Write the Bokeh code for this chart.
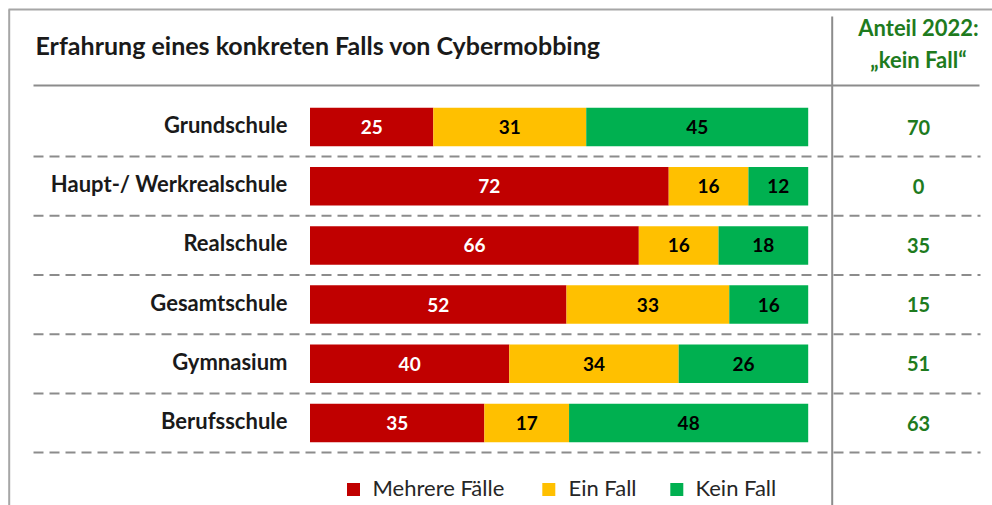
from bokeh.plotting import figure
from bokeh.models import Range1d, ColumnDataSource
from bokeh.core.properties import value
from bokeh.embed import file_html
from bokeh.resources import INLINE

# ---------------- data ----------------
schools = ["Grundschule", "Haupt-/ Werkrealschule", "Realschule",
           "Gesamtschule", "Gymnasium", "Berufsschule"]
mehrere = [25, 72, 66, 52, 40, 35]
ein_fall = [31, 16, 16, 33, 34, 17]
kein_fall = [45, 12, 18, 16, 26, 48]
anteil_2022 = [70, 0, 35, 15, 51, 63]
series_names = ["Mehrere Fälle", "Ein Fall", "Kein Fall"]
title_text = "Erfahrung eines konkreten Falls von Cybermobbing"
header_lines = ["Anteil 2022:", "\u201ekein Fall\u201c"]

# ---------------- styling ----------------
RED, YELLOW, GREEN = "#C00000", "#FFC000", "#00B050"
DKGREEN = "#1E7B1E"
GRAY = "#8C8C8C"
FONT = "Lato"
W, H = 992, 505
BAR_L, BAR_R = 309.5, 807.7      # px for 0% and 100%
ROW0, PITCH = 126.5, 59.2        # px of first row centre, row pitch

sc = (BAR_R - BAR_L) / 100.0
def fx(px):  # px -> data x
    return (px - BAR_L) / sc
def fy(py):  # px -> data y
    return (py - ROW0) / PITCH

p = figure(width=W, height=H, output_backend="svg", toolbar_location=None,
           x_range=Range1d(fx(0), fx(W)), y_range=Range1d(fy(H), fy(0)),
           min_border=0)
p.axis.visible = False
p.xgrid.visible = False
p.ygrid.visible = False
p.outline_line_color = None
p.background_fill_color = "white"
p.border_fill_color = "white"

# ---------------- bars ----------------
idx = list(range(len(schools)))
totals = [a + b + c for a, b, c in zip(mehrere, ein_fall, kein_fall)]
s1 = [a / t * 100 for a, t in zip(mehrere, totals)]
s2 = [b / t * 100 for b, t in zip(ein_fall, totals)]
l1 = [0] * len(idx)
r1 = s1
l2 = r1
r2 = [a + b for a, b in zip(s1, s2)]
l3 = r2
r3 = [100] * len(idx)

src = ColumnDataSource(dict(y=idx, l1=l1, r1=r1, l2=l2, r2=r2, l3=l3, r3=r3,
                            m1=[(a + b) / 2 for a, b in zip(l1, r1)],
                            m2=[(a + b) / 2 for a, b in zip(l2, r2)],
                            m3=[(a + b) / 2 for a, b in zip(l3, r3)],
                            t1=[str(v) for v in mehrere],
                            t2=[str(v) for v in ein_fall],
                            t3=[str(v) for v in kein_fall],
                            name=schools,
                            ylab=[i - 2.5 / PITCH for i in idx],
                            share=[str(v) for v in anteil_2022]))

BH = 38.5 / PITCH
for (l, r, c) in [("l1", "r1", RED), ("l2", "r2", YELLOW), ("l3", "r3", GREEN)]:
    p.hbar(y="y", left=l, right=r, height=BH, fill_color=c, line_color=None, source=src)

for (m, t, c) in [("m1", "t1", "white"), ("m2", "t2", "black"), ("m3", "t3", "black")]:
    p.text(x=m, y="y", text=t, source=src, text_align="center", text_baseline="middle",
           text_color=c, text_font=value(FONT), text_font_style="bold",
           text_font_size="19px")

# category labels
p.text(x=fx(287), y="ylab", text="name", source=src, text_align="right",
       text_baseline="middle", text_color="#1a1a1a", text_font=value(FONT),
       text_font_style="bold", text_font_size="22px")

# right column values
p.text(x=fx(918), y="y", text="share", source=src, text_align="center",
       text_baseline="middle", text_color=DKGREEN, text_font=value(FONT),
       text_font_style="bold", text_font_size="20px")

# ---------------- title & header ----------------
p.text(x=[fx(35)], y=[fy(44)], text=[title_text], text_align="left",
       text_baseline="middle", text_color="#1a1a1a", text_font=value(FONT),
       text_font_style="bold", text_font_size="25px")
p.text(x=[fx(918)] * 2, y=[fy(26.5), fy(58.5)], text=header_lines, text_align="center",
       text_baseline="middle", text_color=DKGREEN, text_font=value(FONT),
       text_font_style="bold", text_font_size="22px")

# ---------------- frame lines ----------------
p.segment(x0=[fx(8), fx(8.7)], y0=[fy(9), fy(9)], x1=[fx(W), fx(8.7)], y1=[fy(9), fy(H)],
          line_color="#A6A6A6", line_width=2)
p.segment(x0=[fx(831.7)], y0=[fy(16)], x1=[fx(831.7)], y1=[fy(H)],
          line_color=GRAY, line_width=2)
p.segment(x0=[fx(33)], y0=[fy(85)], x1=[fx(979)], y1=[fy(85)],
          line_color=GRAY, line_width=2)
sep_y = [i + 0.5 for i in idx]
p.segment(x0=[fx(33)] * len(sep_y), y0=sep_y, x1=[fx(980)] * len(sep_y), y1=sep_y,
          line_color=GRAY, line_width=2, line_dash="10 6")

# ---------------- legend ----------------
leg_sq_x = [353, 548.3, 676.3]
leg_tx_x = [372, 568, 695]
LEG_Y = 489
p.scatter(x=[fx(v) for v in leg_sq_x], y=[fy(LEG_Y)] * 3, marker="square", size=13,
          fill_color=[RED, YELLOW, GREEN], line_color=None)
p.text(x=[fx(v) for v in leg_tx_x], y=[fy(LEG_Y - 2)] * 3, text=series_names,
       text_align="left", text_baseline="middle", text_color="#262626",
       text_font=value(FONT), text_font_size="22px")

open("out.html", "w").write(file_html(p, INLINE))
